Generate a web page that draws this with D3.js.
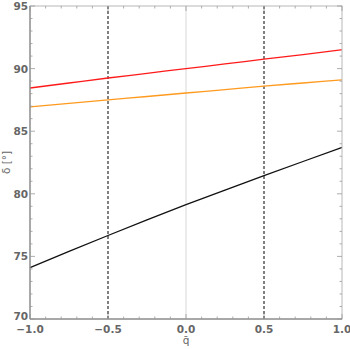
<!DOCTYPE html>
<html><head><meta charset="utf-8">
<script src="https://cdn.jsdelivr.net/npm/d3@7"></script>
<style>body{margin:0;background:#fff}svg{display:block}text{font-family:"DejaVu Sans",sans-serif}</style>
</head><body><div id="c"></div>
<script>
const qValues = [-1, -0.75, -0.5, -0.25, 0, 0.25, 0.5, 0.75, 1];
const redSeries = [88.45, 88.85, 89.25, 89.62, 90.0, 90.37, 90.75, 91.12, 91.5];
const orangeSeries = [86.95, 87.22, 87.5, 87.77, 88.05, 88.32, 88.6, 88.85, 89.1];
const blackSeries = [74.1, 75.4, 76.67, 77.92, 79.13, 80.3, 81.45, 82.58, 83.7];
const xTicks = [-1, -0.5, 0, 0.5, 1];
const xTickLabels = ["\u22121.0", "\u22120.5", "0.0", "0.5", "1.0"];
const yTicks = [70, 75, 80, 85, 90, 95];
const dashedAt = [-0.5, 0.5];

const W = 350, H = 349;
const m = {l: 30, r: 8, t: 6, b: 30};
const svg = d3.select("#c").append("svg").attr("width", W).attr("height", H);
const x = d3.scaleLinear().domain([-1, 1]).range([m.l, W - m.r]);
const y = d3.scaleLinear().domain([70, 95]).range([H - m.b, m.t]);

svg.append("line").attr("x1", x(0)).attr("x2", x(0)).attr("y1", y(70)).attr("y2", y(95))
  .attr("stroke", "#d9d9d9").attr("stroke-width", 1);

svg.selectAll(".dash").data(dashedAt).enter().append("line")
  .attr("x1", d => x(d)).attr("x2", d => x(d)).attr("y1", y(70)).attr("y2", y(95))
  .attr("stroke", "#000").attr("stroke-width", 1).attr("stroke-dasharray", "3,2");

const line = d3.line().x((d, i) => x(qValues[i])).y(d => y(d)).curve(d3.curveMonotoneX);
[[redSeries, "#ff1a1a"], [orangeSeries, "#ff9a1e"], [blackSeries, "#111"]].forEach(([s, c]) => {
  svg.append("path").datum(s).attr("d", line).attr("fill", "none").attr("stroke", c).attr("stroke-width", 1.3);
});

svg.append("rect").attr("x", x(-1)).attr("y", y(95)).attr("width", x(1) - x(-1)).attr("height", y(70) - y(95))
  .attr("fill", "none").attr("stroke", "#b8b8b8").attr("stroke-width", 1);
svg.append("line").attr("x1", x(-1)).attr("x2", x(-1)).attr("y1", y(70)).attr("y2", y(95)).attr("stroke", "#777");
svg.append("line").attr("x1", x(-1)).attr("x2", x(1)).attr("y1", y(70)).attr("y2", y(70)).attr("stroke", "#777");

const xMinor = d3.range(-10, 11).map(v => v / 10);
const yMinor = d3.range(70, 96);
const tickCol = "#999";
function xTicksAt(yy, dir) {
  xMinor.forEach(v => {
    const major = Math.abs(v * 2 - Math.round(v * 2)) < 1e-9;
    svg.append("line").attr("x1", x(v)).attr("x2", x(v)).attr("y1", yy).attr("y2", yy + dir * (major ? 5 : 2.5))
      .attr("stroke", tickCol).attr("stroke-width", 0.8);
  });
}
function yTicksAt(xx, dir) {
  yMinor.forEach(v => {
    const major = v % 5 === 0;
    svg.append("line").attr("y1", y(v)).attr("y2", y(v)).attr("x1", xx).attr("x2", xx + dir * (major ? 5 : 2.5))
      .attr("stroke", tickCol).attr("stroke-width", 0.8);
  });
}
xTicksAt(y(70), -1); xTicksAt(y(95), 1); yTicksAt(x(-1), 1); yTicksAt(x(1), -1);

const lab = "#666";
svg.selectAll(".xl").data(xTicks).enter().append("text")
  .attr("x", d => x(d)).attr("y", y(70) + 13.5).attr("text-anchor", "middle")
  .attr("font-size", 10.5).attr("font-weight", "bold").attr("fill", lab)
  .text((d, i) => xTickLabels[i]);
svg.selectAll(".yl").data(yTicks).enter().append("text")
  .attr("x", x(-1) - 2).attr("y", d => y(d) + (d === 70 ? 1 : 4)).attr("text-anchor", "end")
  .attr("font-size", 10.5).attr("font-weight", "bold").attr("fill", lab)
  .text(d => d);

svg.append("text").attr("x", x(0)).attr("y", H - 5).attr("text-anchor", "middle")
  .attr("font-size", 10.5).attr("fill", lab).text("q\u0304");
svg.append("text").attr("transform", `translate(10,${(y(70) + y(95)) / 2}) rotate(-90)`)
  .attr("text-anchor", "middle").attr("font-size", 10.5).attr("fill", lab).text("\u03B4 [\u00B0]");
</script></body></html>
